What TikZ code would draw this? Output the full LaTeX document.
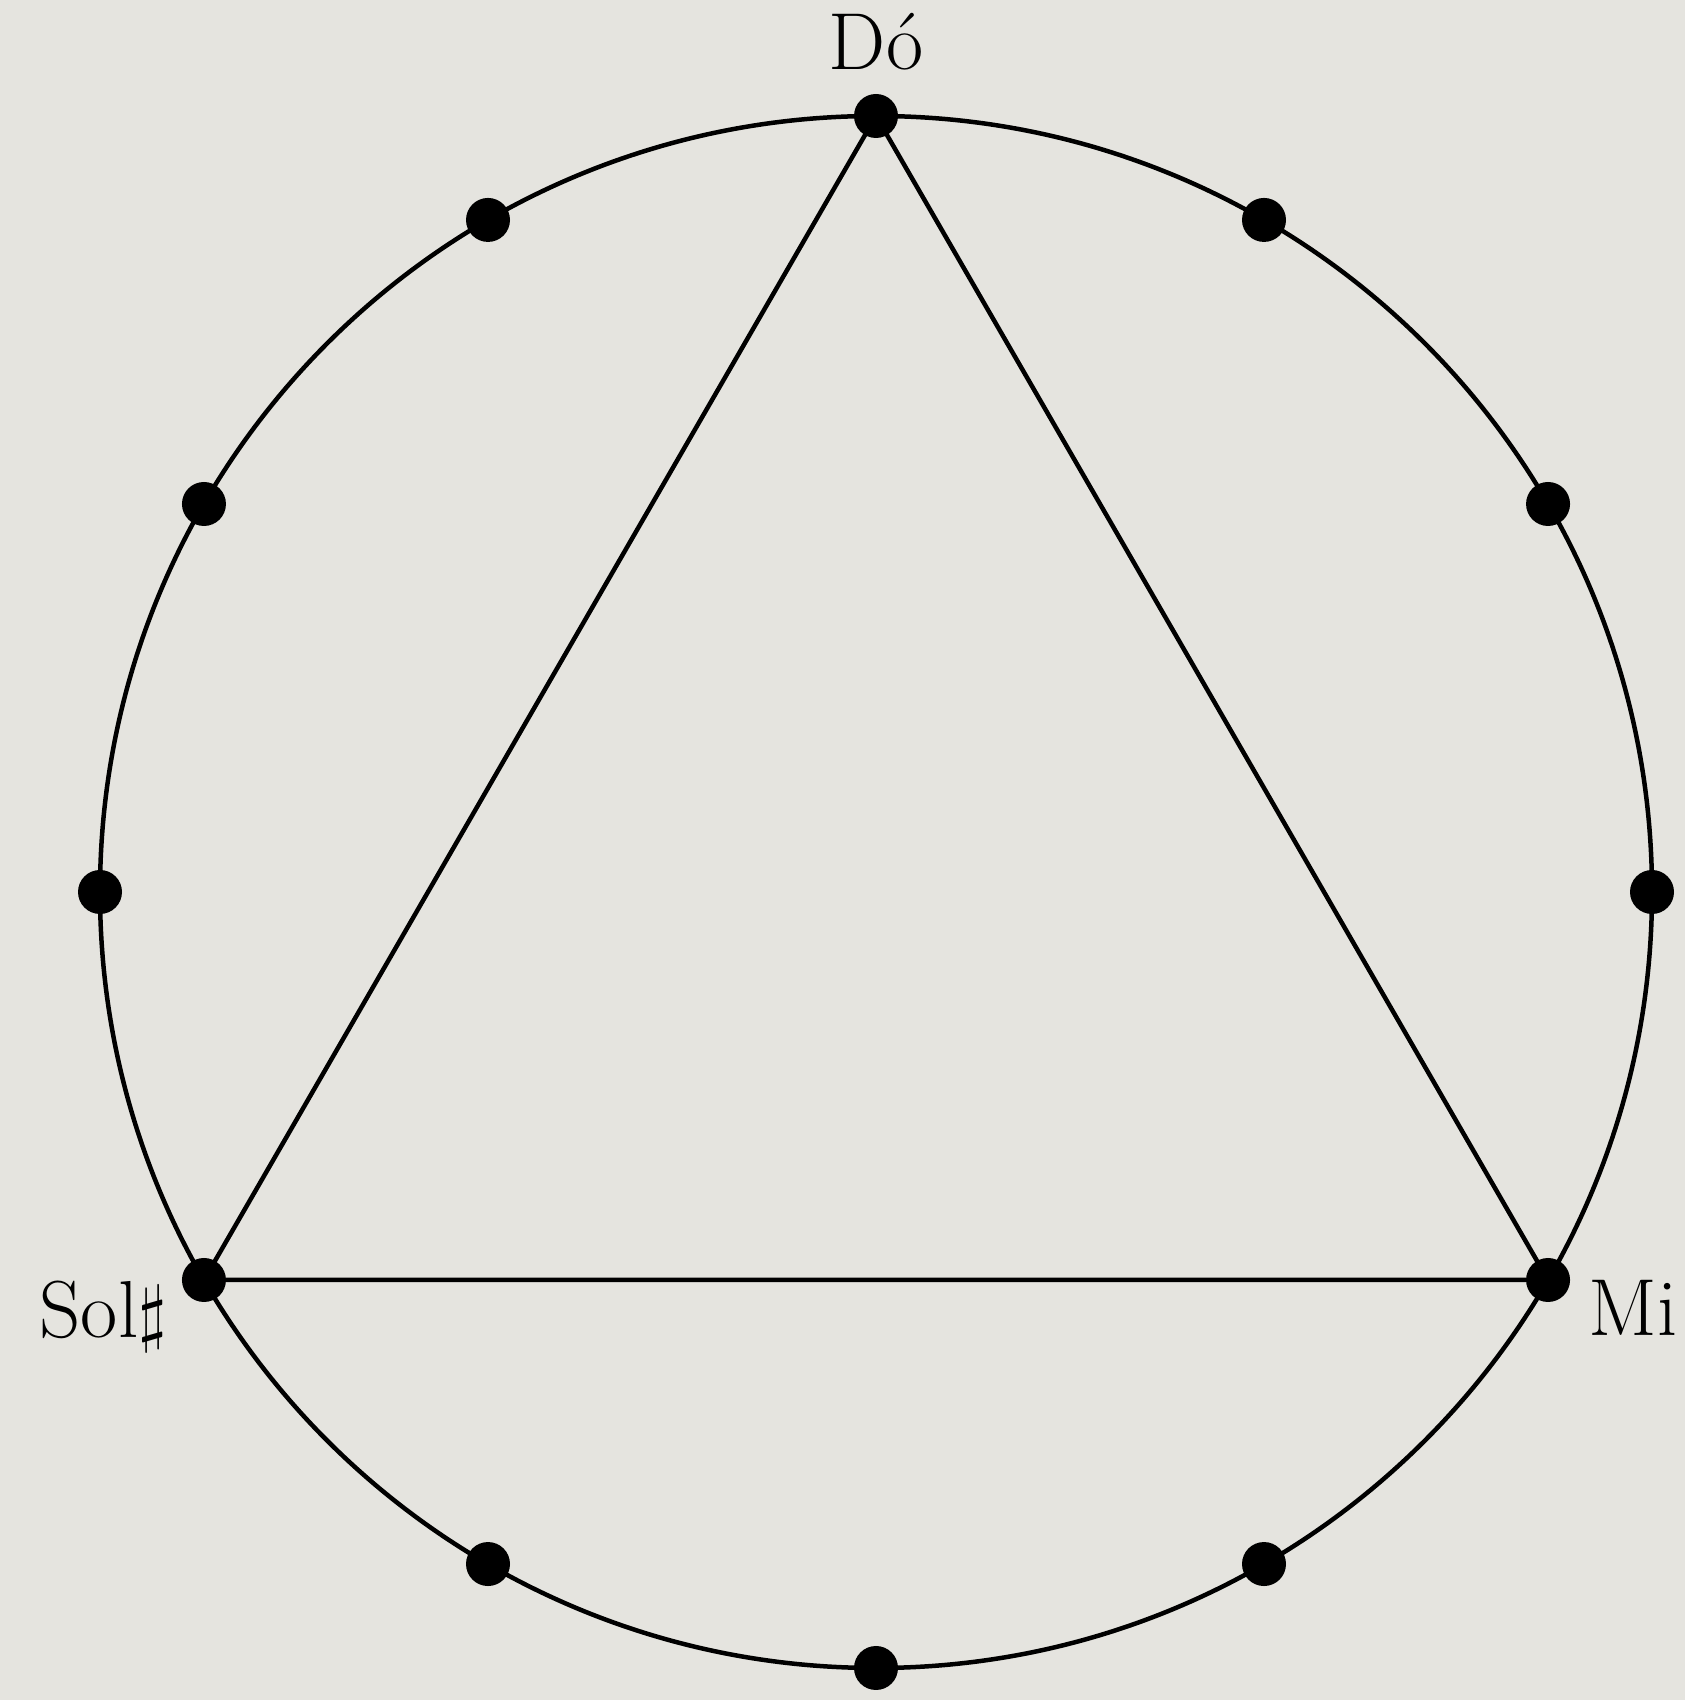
\documentclass[tikz,border=0pt]{standalone}
\usepackage{fontspec}
\definecolor{paper}{RGB}{229,228,223}
\begin{document}
\begin{tikzpicture}[
        dot/.style={circle, fill=black, minimum size=0.44cm, inner sep=0pt},
        ring/.style={line width=0.045cm},
        edge/.style={line width=0.045cm, line join=miter},
        notename/.style={font=\fontsize{23}{27}\selectfont, inner sep=0pt}
    ]
        % Paper background
        \fill[paper] (0,0) rectangle (16.85,17);
        \useasboundingbox (0,0) rectangle (16.85,17);

        \begin{scope}[shift={(8.76,8.08)}]
        % Circle of twelve notes
        \draw[ring] (0,0) circle (7.76);
        \foreach \k in {0,...,11} {
            \node[dot] (p\k) at ({90-30*\k}:7.76) {};
        }

        % Augmented triad
        \draw[edge] (p0.center) -- (p4.center) -- (p8.center) -- cycle;

        % Note names
        \node[notename, anchor=south] (do) at ([yshift=0.22cm]p0.north) {Dó};
        \node[notename, anchor=north west] (mi) at ([xshift=0.17cm]p4.east) {Mi};
        \node[notename, anchor=north east] (sol) at ([xshift=-0.14cm]p8.west) {Sol\scalebox{0.85}{$\sharp$}};
        \end{scope}
    \end{tikzpicture}
\end{document}
